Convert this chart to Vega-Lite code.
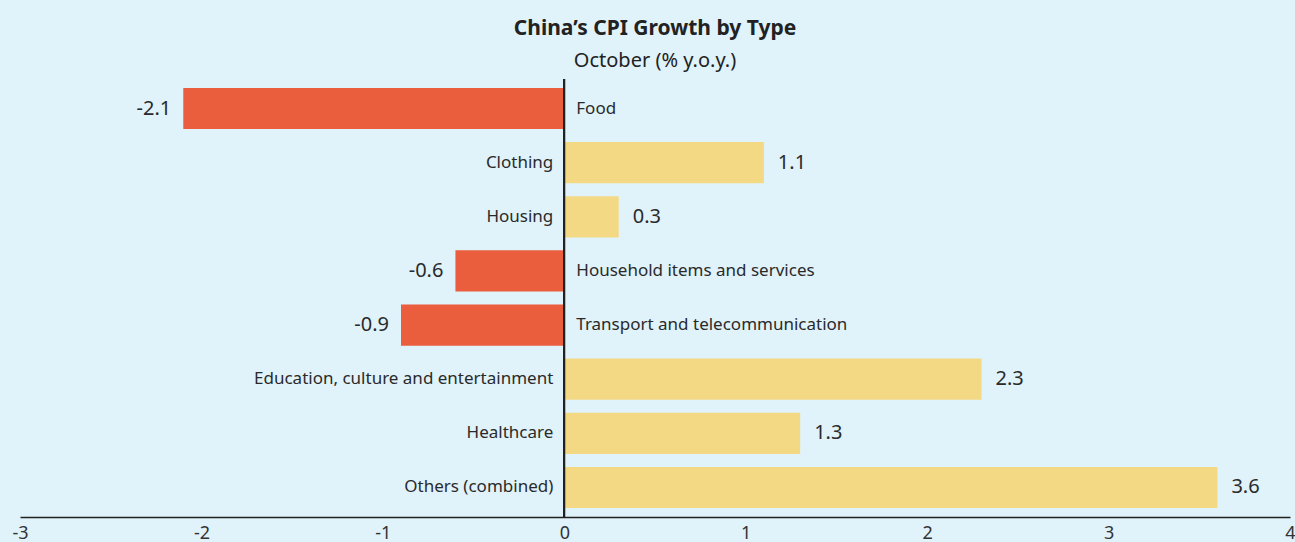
{
  "$schema": "https://vega.github.io/schema/vega-lite/v6.json",
  "width": 1270,
  "height": 438,
  "autosize": "none",
  "padding": {"left": 20, "right": 5, "top": 79, "bottom": 25},
  "background": "#e0f2fa",
  "title": {
    "text": "China’s CPI Growth by Type",
    "subtitle": "October (% y.o.y.)",
    "anchor": "middle",
    "font": "Noto Sans",
    "fontSize": 21,
    "fontWeight": "bold",
    "color": "#222",
    "subtitleFont": "Noto Sans",
    "subtitleFontSize": 20,
    "subtitleColor": "#222",
    "subtitlePadding": 12,
    "offset": 7
  },
  "data": {
    "values": [
      {"category": "Food", "value": -2.1},
      {"category": "Clothing", "value": 1.1},
      {"category": "Housing", "value": 0.3},
      {"category": "Household items and services", "value": -0.6},
      {"category": "Transport and telecommunication", "value": -0.9},
      {"category": "Education, culture and entertainment", "value": 2.3},
      {"category": "Healthcare", "value": 1.3},
      {"category": "Others (combined)", "value": 3.6}
    ]
  },
  "encoding": {
    "y": {
      "field": "category",
      "type": "nominal",
      "sort": null,
      "axis": null,
      "scale": {"paddingInner": 0.24, "paddingOuter": 0.166}
    }
  },
  "layer": [
    {
      "mark": {"type": "bar"},
      "encoding": {
        "x": {
          "field": "value",
          "type": "quantitative",
          "scale": {"domain": [-3, 4], "nice": false, "zero": false},
          "axis": {
            "values": [-3, -2, -1, 0, 1, 2, 3, 4],
            "title": null,
            "grid": false,
            "ticks": false,
            "domainColor": "#222",
            "domainWidth": 1.5,
            "labelFont": "Noto Sans",
            "labelFontSize": 18,
            "labelColor": "#333",
            "labelPadding": 7,
            "labelFlush": false,
            "format": "d"
          }
        },
        "color": {
          "condition": {"test": "datum.value < 0", "value": "#ea5d3d"},
          "value": "#f4d985"
        }
      }
    },
    {
      "mark": {"type": "rule", "color": "#222", "strokeWidth": 1.5},
      "encoding": {"x": {"datum": 0, "type": "quantitative"}, "y": null}
    },
    {
      "transform": [{"filter": "datum.value >= 0"}],
      "mark": {"type": "text", "align": "right", "baseline": "middle", "dx": -11, "font": "Noto Sans", "fontSize": 17, "color": "#2a2a2a"},
      "encoding": {"x": {"datum": 0, "type": "quantitative"}, "text": {"field": "category"}}
    },
    {
      "transform": [{"filter": "datum.value < 0"}],
      "mark": {"type": "text", "align": "left", "baseline": "middle", "dx": 12, "font": "Noto Sans", "fontSize": 17, "color": "#2a2a2a"},
      "encoding": {"x": {"datum": 0, "type": "quantitative"}, "text": {"field": "category"}}
    },
    {
      "transform": [{"filter": "datum.value >= 0"}],
      "mark": {"type": "text", "align": "left", "baseline": "middle", "dx": 14, "font": "Noto Sans", "fontSize": 20, "color": "#2a2a2a"},
      "encoding": {"x": {"field": "value", "type": "quantitative"}, "text": {"field": "value", "type": "quantitative", "format": ".1f"}}
    },
    {
      "transform": [{"filter": "datum.value < 0"}],
      "mark": {"type": "text", "align": "right", "baseline": "middle", "dx": -12, "font": "Noto Sans", "fontSize": 20, "color": "#2a2a2a"},
      "encoding": {"x": {"field": "value", "type": "quantitative"}, "text": {"field": "value", "type": "quantitative", "format": ".1f"}}
    }
  ],
  "config": {
    "view": {"stroke": null},
    "locale": {"number": {"decimal": ".", "thousands": ",", "grouping": [3], "currency": ["$", ""], "minus": "-"}}
  }
}
